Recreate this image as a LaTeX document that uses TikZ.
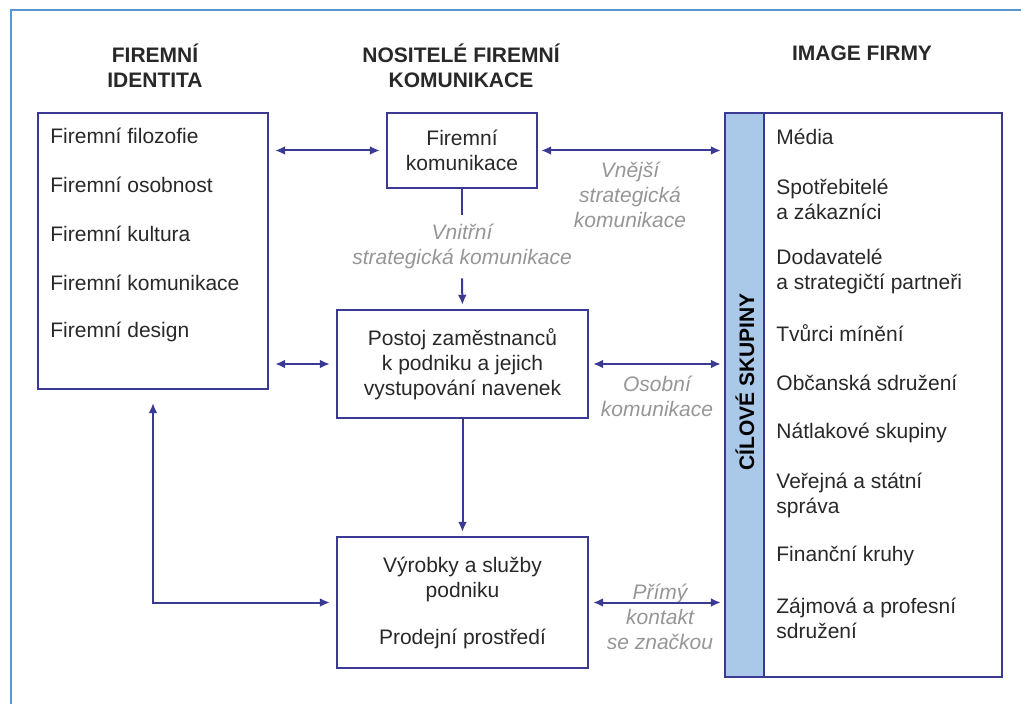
\documentclass[tikz,border=0pt]{standalone}
\usepackage{fontspec}
\setmainfont{Liberation Sans}
\usetikzlibrary{arrows.meta,positioning}
\definecolor{ink}{RGB}{58,58,148}
\definecolor{stripfill}{RGB}{170,201,233}
\definecolor{framecol}{RGB}{91,150,210}
\definecolor{txt}{RGB}{40,40,40}
\definecolor{lbl}{RGB}{150,150,150}

\begin{document}
\begin{tikzpicture}[x=0.5pt,y=-0.5pt,box/.style={draw=ink,line width=1.2pt,align=center,font=\fontsize{10.5}{12.5}\selectfont,text=txt,inner sep=0pt},head/.style={align=center,font=\fontsize{10.5}{12.5}\selectfont\bfseries,text=txt},item/.style={anchor=west,align=left,font=\fontsize{10.5}{12.5}\selectfont,text=txt,inner sep=0pt},note/.style={align=center,font=\fontsize{10.5}{12.5}\selectfont\itshape,text=lbl,inner sep=1pt},arr/.style={-{Latex[length=5pt,width=4.5pt]},line width=1pt,draw=ink},darr/.style={{Latex[length=5pt,width=4.5pt]}-{Latex[length=5pt,width=4.5pt]},line width=1pt,draw=ink}]
\useasboundingbox (0,0) rectangle (1021,704);
\draw[framecol,line width=1.2pt] (11,704) -- (11,10) -- (1021,10);
\node[head] (hident) at (155,65.5) {FIREMNÍ\\IDENTITA};
\node[head] (hnos) at (461,65.5) {NOSITELÉ FIREMNÍ\\KOMUNIKACE};
\node[head] (himage) at (862,53) {IMAGE FIRMY};
\node[box,minimum width=115pt,minimum height=138pt] (ident) at (153,251) {};
\foreach \t [count=\i] in {Firemní filozofie,Firemní osobnost,Firemní kultura,Firemní komunikace,Firemní design}
  \node[item] (fi\i) at (50,{136+49*(\i-1)}) {\t};
\node[box,minimum width=75pt,minimum height=37.5pt] (fkom) at (462,150.5) {Firemní\\komunikace};
\node[box,minimum width=125.5pt,minimum height=54pt] (postoj) at (462.5,364) {Postoj zaměstnanců\\k podniku a jejich\\vystupování navenek};
\node[box,minimum width=125.5pt,minimum height=65.5pt] (vyrobky) at (462.5,602.5) {Výrobky a služby\\podniku\\[11pt]Prodejní prostředí};
\node[box,minimum width=138.5pt,minimum height=282pt] (cile) at (863.5,395) {};
\node[box,fill=stripfill,minimum width=19.5pt,minimum height=282pt] (pruh) at (744.5,395) {};
\node[head,rotate=90,text=black] (pruhtext) at (745,382) {CÍLOVÉ SKUPINY};
\node[item] (c1) at (776,137) {Média};
\node[item] (c2) at (776,199.5) {Spotřebitelé\\a zákazníci};
\node[item] (c3) at (776,271.5) {Dodavatelé\\a strategičtí partneři};
\node[item] (c4) at (776,333) {Tvůrci mínění};
\node[item] (c5) at (776,383) {Občanská sdružení};
\node[item] (c6) at (776,433) {Nátlakové skupiny};
\node[item] (c7) at (776,495) {Veřejná a státní\\správa};
\node[item] (c8) at (776,556) {Finanční kruhy};
\node[item] (c9) at (776,618) {Zájmová a profesní\\sdružení};
\node[note,inner ysep=4.5pt] (vnitrni) at (462,246.5) {Vnitřní\\strategická komunikace};
\node[note] (vnejsi) at (630,195) {Vnější\\strategická\\komunikace};
\node[note] (osobni) at (657,396) {Osobní\\komunikace};
\node[note] (primy) at (660,617) {Přímý\\kontakt\\se značkou};
\draw[darr,shorten <=3pt,shorten >=3pt] (ident.east |- fkom.west) -- (fkom.west);
\draw[darr,shorten <=3pt,shorten >=3pt] (ident.east |- postoj.west) -- (postoj.west);
\draw[darr,shorten <=1.5pt,shorten >=1.5pt] (fkom.east) -- (fkom.east -| pruh.west);
\draw[darr,shorten <=2pt,shorten >=1.5pt] (postoj.east) -- (postoj.east -| pruh.west);
\draw[darr,shorten <=2pt,shorten >=1.5pt] (vyrobky.east) -- (vyrobky.east -| pruh.west);
\draw[ink,line width=1pt] (fkom.south) -- (vnitrni.north);
\draw[arr,shorten >=2pt] (vnitrni.south) -- (postoj.north);
\draw[arr,shorten >=2pt] (postoj.south) -- (vyrobky.north);
\draw[darr,shorten <=6.5pt,shorten >=3pt] (ident.south) |- (vyrobky.west);
\end{tikzpicture}
\end{document}
